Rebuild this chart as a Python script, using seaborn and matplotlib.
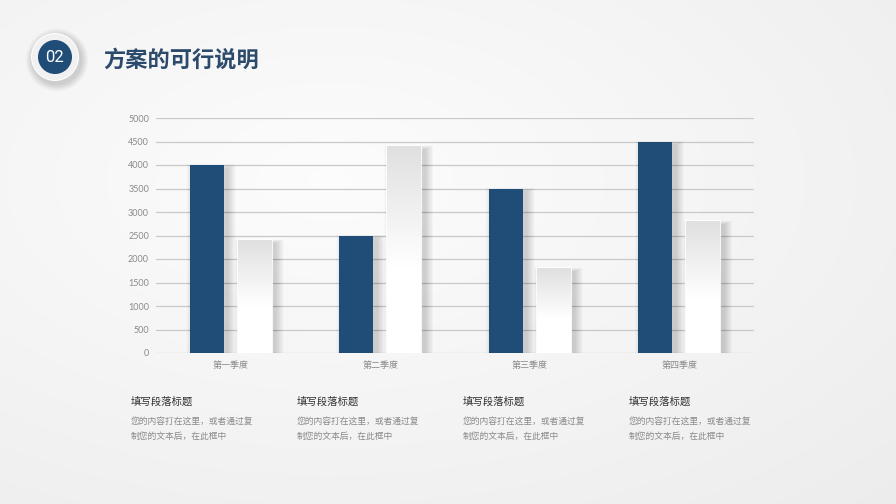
import matplotlib
matplotlib.use('Agg')
import matplotlib.pyplot as plt
import seaborn as sns
import pandas as pd
import numpy as np
from matplotlib.patches import Circle, Rectangle

# chart data
quarters = ["第一季度", "第二季度", "第三季度", "第四季度"]
series_a = [4000, 2500, 3500, 4500]
series_b = [2400, 4400, 1800, 2800]
series_names = ["系列1", "系列2"]
y_ticks = list(range(0, 5001, 500))

title = "方案的可行说明"
badge = "02"
block_title = "填写段落标题"
block_lines = ["您的内容打在这里，或者通过复", "制您的文本后，在此框中"]

BLUE = "#1f4d78"
W, H = 896, 504

sns.set_theme(style="white")
plt.rcParams['font.family'] = ['Noto Sans CJK SC', 'DejaVu Sans']

fig = plt.figure(figsize=(W / 100, H / 100), dpi=100)

# page background with soft grey gradient
bg = fig.add_axes([0, 0, 1, 1], zorder=-5)
bg.set_xlim(0, W)
bg.set_ylim(H, 0)
bg.axis("off")
yy, xx = np.mgrid[0:H, 0:W]
d = np.sqrt(((xx - 330) / W) ** 2 + ((yy - 180) / H) ** 2)
shade = np.clip(0.99 - 0.07 * d, 0.925, 0.99)
bg.imshow(np.dstack([shade] * 3), extent=(0, W, H, 0), aspect="auto", zorder=0)

# numbered badge
for i in range(8):
    bg.add_patch(Circle((57, 60), 25 + i * 0.9, color="#000000", alpha=0.018, lw=0, zorder=1))
bg.add_patch(Circle((55, 57), 24, color="#ffffff", lw=0, zorder=2))
bg.add_patch(Circle((55, 57), 23, color="#f1f1f1", lw=0, zorder=2))
bg.add_patch(Circle((55, 57), 17, color=BLUE, lw=0, zorder=3))
bg.text(55, 57, badge, color="white", fontsize=12, ha="center", va="center",
        family=["Roboto", "DejaVu Sans"], zorder=4)
bg.text(103, 60, title, color="#2c4a6c", fontsize=16, fontweight="bold",
        ha="left", va="center", zorder=4)

# text blocks below chart
for x0 in [131, 297, 463, 629]:
    bg.text(x0, 402, block_title, color="#333333", fontsize=7.5, ha="left", va="center")
    for j, line in enumerate(block_lines):
        bg.text(x0, 421 + j * 15, line, color="#8a8a8a", fontsize=6.3, ha="left", va="center")

# bar chart
ax = fig.add_axes([156 / W, 1 - 353 / H, (754 - 156) / W, (353 - 118) / H])
ax.patch.set_alpha(0)

df = pd.DataFrame({
    "quarter": quarters * 2,
    "value": series_a + series_b,
    "series": [series_names[0]] * 4 + [series_names[1]] * 4,
})
sns.barplot(data=df, x="quarter", y="value", hue="series", ax=ax,
            palette={series_names[0]: BLUE, series_names[1]: "#ffffff"},
            width=0.645, gap=0.3, saturation=1, legend=False, zorder=3, linewidth=0)

ax.set_ylim(0, 5000)
ax.set_yticks(y_ticks)
ax.yaxis.grid(True, color="#c9c9c9", linewidth=0.9, zorder=0)
ax.set_axisbelow(True)
for s in ax.spines.values():
    s.set_visible(False)
ax.tick_params(axis="both", length=0, labelsize=6.5, labelcolor="#8a8a8a")
ax.tick_params(axis="y", pad=5)
ax.tick_params(axis="x", pad=6)
ax.set_xlabel("")
ax.set_ylabel("")
for lbl in ax.get_yticklabels():
    lbl.set_family(["Lato", "DejaVu Sans"])

# soft shadows and grey-to-white gradient on the second series
grad = np.linspace(0, 1, 256).reshape(-1, 1)
grad_img = np.clip(grad * 1.7, 0, 1)
gcmap = matplotlib.colors.LinearSegmentedColormap.from_list("g", ["#e0e0e0", "#ffffff"])
for ci, cont in enumerate(ax.containers):
    for p in cont.patches:
        x, w, h = p.get_x(), p.get_width(), p.get_height()
        for k in range(14):
            ex = 0.008 * k
            ax.add_patch(Rectangle((x + 0.03 - ex / 2, 0), w + ex, h - 60 + 6 * k,
                                   color="#000000", alpha=0.011, lw=0, zorder=2))
        if ci == 1:
            p.set_edgecolor("#ffffff")
            p.set_linewidth(1.2)
            im = ax.imshow(grad_img, cmap=gcmap, extent=(x, x + w, 0, h),
                           aspect="auto", origin="upper", zorder=3.5, vmin=0, vmax=1)
            im.set_clip_path(p)
ax.set_xlim(-0.5, 3.5)
ax.set_ylim(0, 5000)

fig.savefig("out.png", dpi=100)
